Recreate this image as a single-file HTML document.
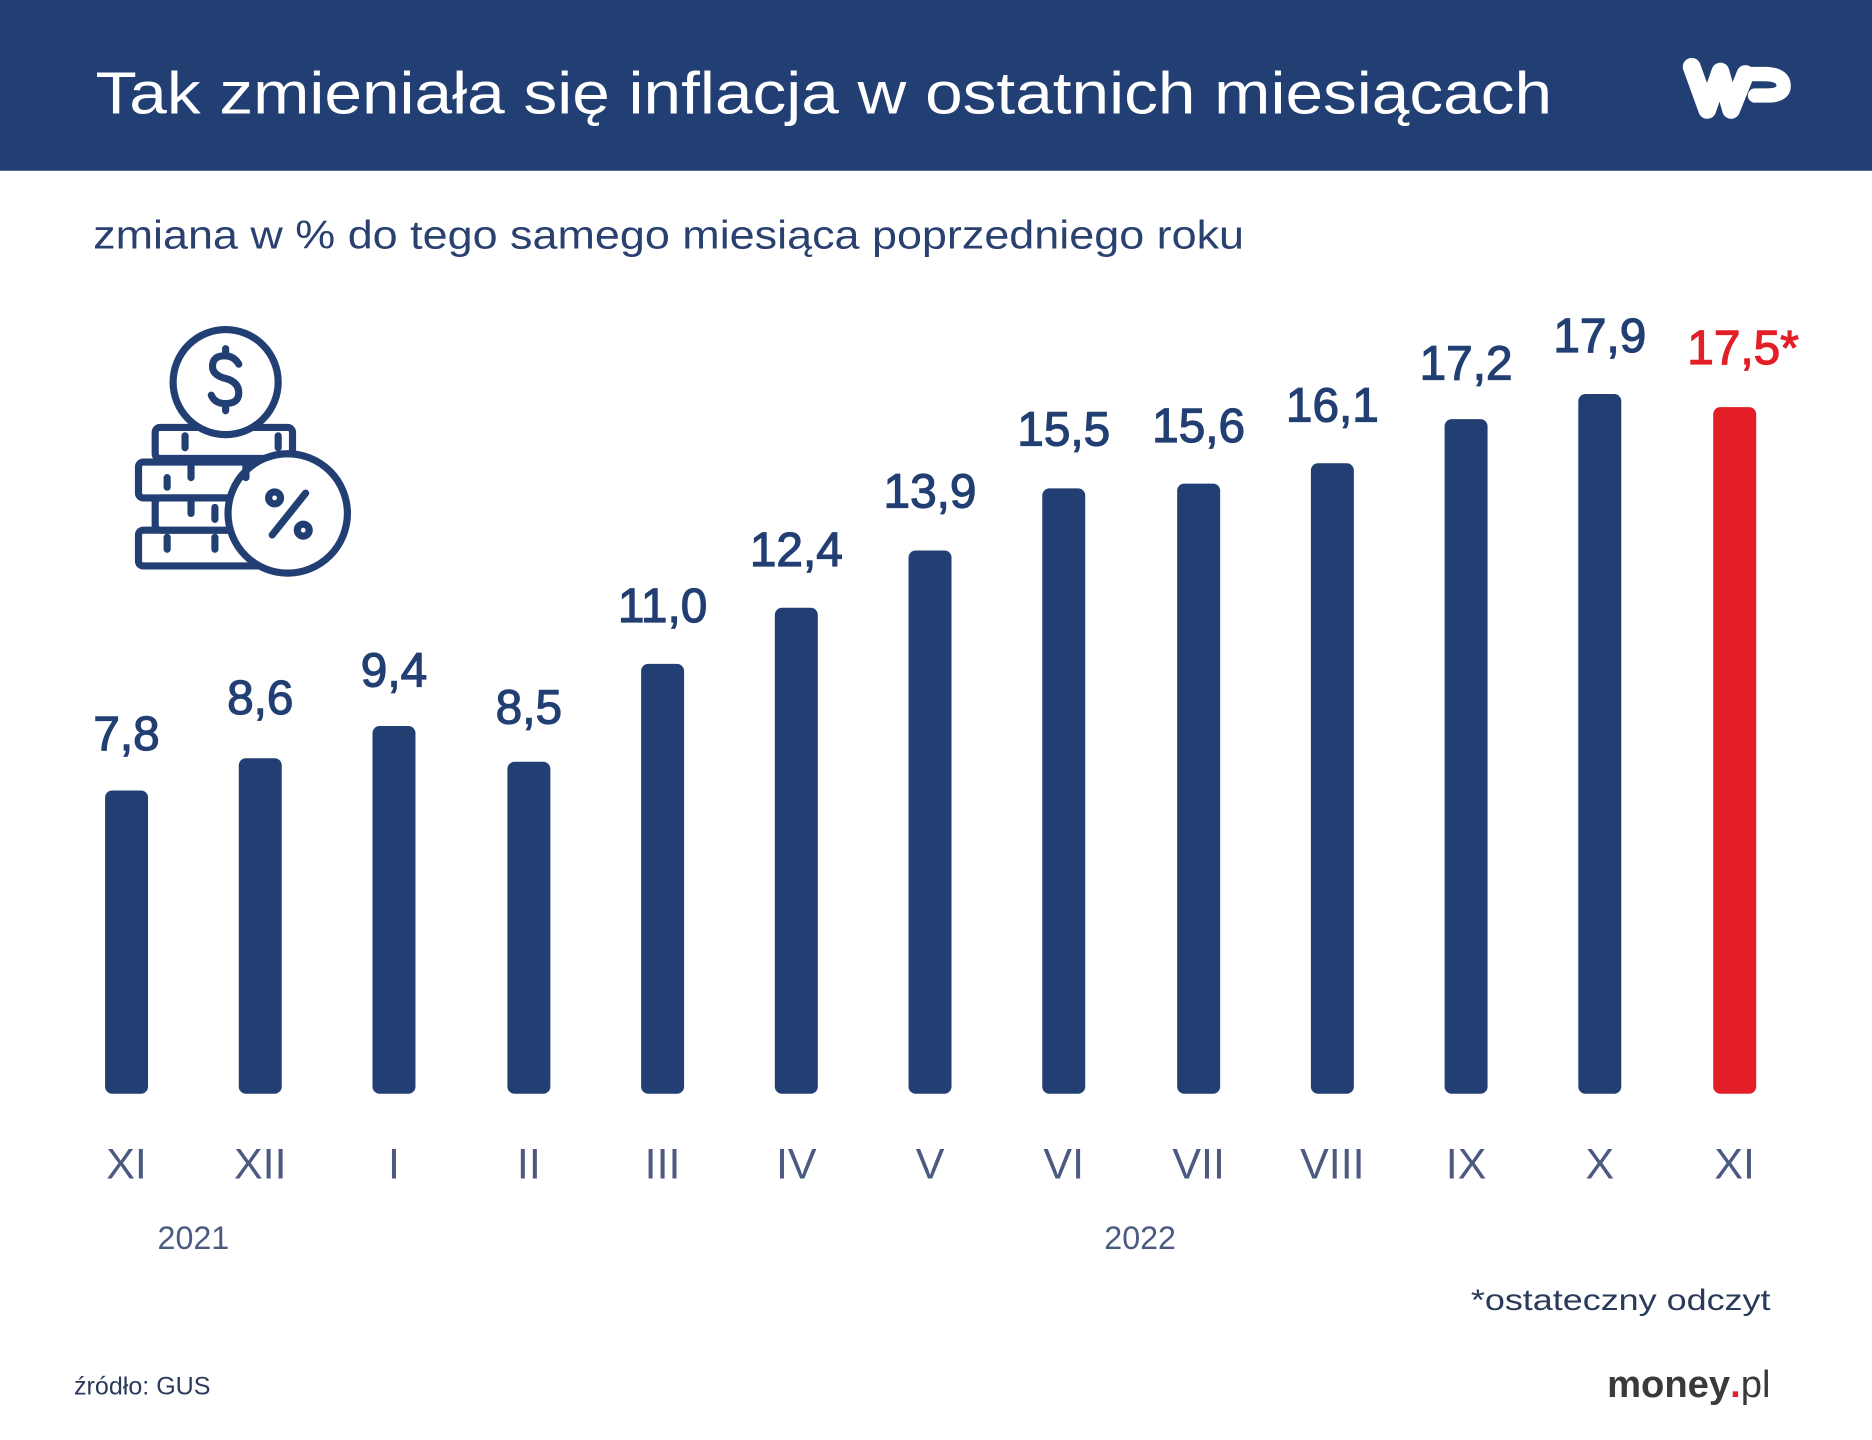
<!DOCTYPE html>
<html><head><meta charset="utf-8"><style>
html,body{margin:0;padding:0;background:#fff;}
svg{display:block}
text{font-family:"Liberation Sans",sans-serif}
</style></head><body>
<svg width="1872" height="1440" viewBox="0 0 1568 1206" preserveAspectRatio="none" xmlns="http://www.w3.org/2000/svg">
<rect x="0" y="0" width="1568" height="143" fill="#223f73"/>
<text x="80" y="95" font-size="50" fill="#fff" textLength="1220" lengthAdjust="spacingAndGlyphs">Tak zmieniała się inflacja w ostatnich miesiącach</text>
<g fill="none" stroke="#fff" stroke-linecap="round" stroke-linejoin="round">
<path d="M1417 56 L1430 92 L1441 60 L1450 92 L1462 62" stroke-width="15"/>
<path d="M1462 62 L1478 62 Q1494 62 1494 72 Q1494 80 1480 80 L1470 80" stroke-width="12"/>
</g>
<text x="78" y="208" font-size="33" fill="#2a4170" textLength="964" lengthAdjust="spacingAndGlyphs">zmiana w % do tego samego miesiąca poprzedniego roku</text>
<g fill="#fff" stroke="#223f73" stroke-width="6" stroke-linecap="round" stroke-linejoin="round">
<rect x="116" y="444" width="110" height="30" rx="4"/>
<rect x="116" y="387" width="110" height="30" rx="4"/>
<rect x="130" y="417" width="110" height="27" rx="4"/>
<rect x="130" y="358" width="115" height="26" rx="4"/>
<circle cx="189" cy="320" r="44"/>
<circle cx="241" cy="430" r="50"/>
<path d="M155 365 v10 M233 365 v10 M160 390 v10 M206 390 v10 M160 420 v10 M180 425 v10 M140 450 v10 M180 450 v10 M140 400 v8"/>
<path d="M200 305 Q196 298 188 298 Q178 298 178 307 Q178 314 189 317 Q200 320 200 329 Q200 338 189 338 Q180 338 177 331 M189 292 v6 M189 338 v6"/>
<path d="M228 448 L256 413" />
<circle cx="230" cy="417" r="5"/>
<circle cx="254" cy="444" r="5"/>
</g>
<g fill="#223f73">
<rect x="88" y="662" width="36" height="254" rx="6"/>
<rect x="200" y="635" width="36" height="281" rx="6"/>
<rect x="312" y="608" width="36" height="308" rx="6"/>
<rect x="425" y="638" width="36" height="278" rx="6"/>
<rect x="537" y="556" width="36" height="360" rx="6"/>
<rect x="649" y="509" width="36" height="407" rx="6"/>
<rect x="761" y="461" width="36" height="455" rx="6"/>
<rect x="873" y="409" width="36" height="507" rx="6"/>
<rect x="986" y="405" width="36" height="511" rx="6"/>
<rect x="1098" y="388" width="36" height="528" rx="6"/>
<rect x="1210" y="351" width="36" height="565" rx="6"/>
<rect x="1322" y="330" width="36" height="586" rx="6"/>
</g>
<rect x="1435" y="341" width="36" height="575" rx="6" fill="#e31e26"/>
<g font-size="40" fill="#223f73" stroke="#223f73" stroke-width="1" text-anchor="middle">
<text x="106" y="628">7,8</text>
<text x="218" y="598">8,6</text>
<text x="330" y="575">9,4</text>
<text x="443" y="606">8,5</text>
<text x="555" y="521">11,0</text>
<text x="667" y="474">12,4</text>
<text x="779" y="425">13,9</text>
<text x="891" y="373">15,5</text>
<text x="1004" y="370">15,6</text>
<text x="1116" y="353">16,1</text>
<text x="1228" y="318">17,2</text>
<text x="1340" y="295">17,9</text>
<text x="1460" y="305" fill="#e31e26" stroke="#e31e26">17,5*</text>
</g>
<g font-size="36" fill="#4a5a80" text-anchor="middle">
<text x="106" y="987">XI</text>
<text x="218" y="987">XII</text>
<text x="330" y="987">I</text>
<text x="443" y="987">II</text>
<text x="555" y="987">III</text>
<text x="667" y="987">IV</text>
<text x="779" y="987">V</text>
<text x="891" y="987">VI</text>
<text x="1004" y="987">VII</text>
<text x="1116" y="987">VIII</text>
<text x="1228" y="987">IX</text>
<text x="1340" y="987">X</text>
<text x="1453" y="987">XI</text>
</g>
<g font-size="27" fill="#4a5a80" text-anchor="middle">
<text x="162" y="1046">2021</text>
<text x="955" y="1046">2022</text>
</g>
<text x="1232" y="1097" font-size="25" fill="#2a3a5a" textLength="251" lengthAdjust="spacingAndGlyphs">*ostateczny odczyt</text>
<text x="62" y="1168" font-size="21" fill="#2a3a5a">źródło: GUS</text>
<text x="1483" y="1170" font-size="32" font-weight="bold" fill="#3a3a3a" text-anchor="end">money<tspan fill="#e31e26">.</tspan><tspan font-weight="normal">pl</tspan></text>
</svg>
</body></html>
